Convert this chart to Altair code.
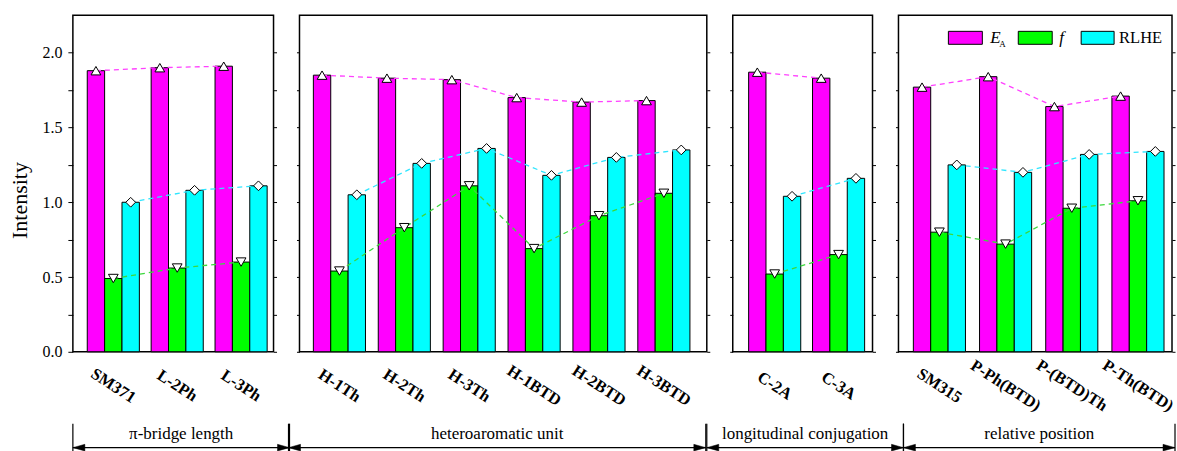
import altair as alt
import pandas as pd

# ---------------- data ----------------
section_titles = ["π-bridge length", "heteroaromatic unit", "longitudinal conjugation", "relative position"]
names_p1 = ["SM371", "L-2Ph", "L-3Ph"]
names_p2 = ["H-1Th", "H-2Th", "H-3Th", "H-1BTD", "H-2BTD", "H-3BTD"]
names_p3 = ["C-2A", "C-3A"]
names_p4 = ["SM315", "P-Ph(BTD)", "P-(BTD)Th", "P-Th(BTD)"]

ea_p1 = [1.88, 1.90, 1.91]
ea_p2 = [1.85, 1.83, 1.82, 1.70, 1.67, 1.68]
ea_p3 = [1.87, 1.83]
ea_p4 = [1.77, 1.84, 1.64, 1.71]

f_p1 = [0.49, 0.56, 0.60]
f_p2 = [0.54, 0.83, 1.11, 0.69, 0.91, 1.06]
f_p3 = [0.52, 0.65]
f_p4 = [0.80, 0.72, 0.96, 1.01]

rlhe_p1 = [1.00, 1.08, 1.11]
rlhe_p2 = [1.05, 1.26, 1.36, 1.18, 1.30, 1.35]
rlhe_p3 = [1.04, 1.16]
rlhe_p4 = [1.25, 1.20, 1.32, 1.34]

series = ["EA", "f", "RLHE"]
y_ticks = [0, 0.25, 0.5, 0.75, 1.0, 1.25, 1.5, 1.75, 2.0]

# ---------------- style / layout ----------------
FONT = "Liberation Serif"
bar_fill = ["#FF00FF", "#00FF00", "#00FFFF"]
line_col = ["#FF40FF", "#3CD83C", "#30E6FF"]
shapes = ["triangle-up", "triangle-down", "diamond"]

panel_w = [201, 408, 140, 274]
group_px = [64, 65, 64, 66.3]        # distance between group centres (px)
first_off = [40.5, 40, 42, 41]        # left frame -> first group centre (px)
bar_px = 17.4
H = 337
LABEL_Y = 371
bracket_l = [0, -11, -26, 5]
bracket_r = [217, 407, 171, 277]

panels = [
    (names_p1, ea_p1, f_p1, rlhe_p1),
    (names_p2, ea_p2, f_p2, rlhe_p2),
    (names_p3, ea_p3, f_p3, rlhe_p3),
    (names_p4, ea_p4, f_p4, rlhe_p4),
]

y_scale = alt.Scale(domain=[0, 2.25], nice=False, zero=True, padding=0)
one = pd.DataFrame({"a": [0]})

charts = []
for p, (names, ea, ff, rl) in enumerate(panels):
    sp = group_px[p]
    lo = 1 - first_off[p] / sp
    hi = lo + panel_w[p] / sp
    bw = bar_px / sp
    rows = []
    for i, nm in enumerate(names):
        for k, (s, vals) in enumerate(zip(series, [ea, ff, rl])):
            xc = i + 1 + (k - 1) * bw
            rows.append(dict(group=i + 1, name=nm, series=s, value=vals[i],
                             xc=xc, x0=xc - bw / 2, x1=xc + bw / 2))
    df = pd.DataFrame(rows)
    lab = pd.DataFrame({"group": list(range(1, len(names) + 1)), "name": names})
    xs = alt.Scale(domain=[lo, hi], nice=False, zero=False, padding=0)

    if p == 0:
        yaxis = alt.Axis(values=y_ticks, grid=False, domain=False, tickSize=5, tickColor="black",
                         labelExpr="datum.value % 0.5 == 0 ? format(datum.value, '.1f') : ''",
                         labelFont=FONT, labelFontSize=16, labelColor="black", labelPadding=6,
                         labelOverlap=False,
                         title="Intensity", titleFont=FONT, titleFontSize=22, titleFontWeight="normal",
                         titleColor="black", titlePadding=10, titleY=185)
    else:
        yaxis = alt.Axis(values=y_ticks, grid=False, domain=False, labels=False, tickSize=3,
                         tickColor="black", title=None)

    bars = alt.Chart(df).mark_rect(stroke="black", strokeWidth=1).encode(
        x=alt.X("x0:Q", scale=xs, axis=None),
        x2="x1:Q",
        y=alt.Y("value:Q", scale=y_scale, axis=yaxis),
        y2=alt.datum(0),
        fill=alt.Fill("series:N", scale=alt.Scale(domain=series, range=bar_fill), legend=None),
    )
    lines = alt.Chart(df).mark_line(strokeDash=[5, 4], strokeWidth=1.3).encode(
        x=alt.X("xc:Q", scale=xs, axis=None),
        y=alt.Y("value:Q", scale=y_scale, axis=None),
        stroke=alt.Stroke("series:N", scale=alt.Scale(domain=series, range=line_col), legend=None),
        order="group:Q",
    )
    pts = alt.Chart(df).mark_point(filled=True, fill="white", stroke="black", strokeWidth=1,
                                   opacity=1, size=95).encode(
        x=alt.X("xc:Q", scale=xs, axis=None),
        y=alt.Y("value:Q", scale=y_scale,
                axis=alt.Axis(orient="right", values=y_ticks, grid=False, domain=False, labels=False,
                              tickSize=3, tickColor="black", title=None)),
        shape=alt.Shape("series:N", scale=alt.Scale(domain=series, range=shapes), legend=None),
    )
    xlabels = alt.Chart(lab).mark_text(font=FONT, fontSize=16.5, fontWeight="bold", angle=33,
                                       align="center", baseline="middle", color="black").encode(
        x=alt.X("group:Q", scale=xs, axis=None),
        y=alt.value(LABEL_Y),
        text="name:N",
    )
    L, R = bracket_l[p], bracket_r[p]
    bdf = pd.DataFrame({"t": [section_titles[p]]})
    vl = alt.Chart(bdf).mark_rule(color="black", strokeWidth=1.2).encode(
        x=alt.value(L), y=alt.value(409), y2=alt.value(437))
    vr = alt.Chart(bdf).mark_rule(color="black", strokeWidth=1.2).encode(
        x=alt.value(R), y=alt.value(409), y2=alt.value(437))
    hl = alt.Chart(bdf).mark_rule(color="black", strokeWidth=1.2).encode(
        x=alt.value(L), x2=alt.value(R), y=alt.value(433))
    al = alt.Chart(bdf).mark_point(shape="M-1,0L1,-0.55L1,0.55Z", filled=True, fill="black",
                                   stroke="black", strokeWidth=0.5, opacity=1, size=144).encode(
        x=alt.value(L + 6), y=alt.value(433))
    ar = alt.Chart(bdf).mark_point(shape="M1,0L-1,-0.55L-1,0.55Z", filled=True, fill="black",
                                   stroke="black", strokeWidth=0.5, opacity=1, size=144).encode(
        x=alt.value(R - 6), y=alt.value(433))
    bt = alt.Chart(bdf).mark_text(font=FONT, fontSize=17, align="center", baseline="middle",
                                  color="black").encode(
        x=alt.value((L + R) / 2), y=alt.value(419), text="t:N")

    layers = [bars, lines, pts, xlabels, vl, vr, hl, al, ar, bt]

    if p == 3:
        sw_x = [(50, 84), (120, 154), (183, 216)]
        for k in range(3):
            layers.append(alt.Chart(one).mark_rect(fill=bar_fill[k], stroke="black", strokeWidth=1).encode(
                x=alt.value(sw_x[k][0]), x2=alt.value(sw_x[k][1]), y=alt.value(16), y2=alt.value(29)))
        layers.append(alt.Chart(one).mark_text(text="E", font=FONT, fontSize=17, fontStyle="italic",
                                               align="left", baseline="alphabetic", color="black").encode(
            x=alt.value(92), y=alt.value(28)))
        layers.append(alt.Chart(one).mark_text(text="A", font=FONT, fontSize=9,
                                               align="left", baseline="alphabetic", color="black").encode(
            x=alt.value(101), y=alt.value(32)))
        layers.append(alt.Chart(one).mark_text(text="f", font=FONT, fontSize=17, fontStyle="italic",
                                               align="left", baseline="alphabetic", color="black").encode(
            x=alt.value(161), y=alt.value(28)))
        layers.append(alt.Chart(one).mark_text(text="RLHE", font=FONT, fontSize=16.5,
                                               align="left", baseline="alphabetic", color="black").encode(
            x=alt.value(221), y=alt.value(28)))

    ch = alt.layer(*layers).resolve_scale(y="independent").properties(width=panel_w[p], height=H)
    charts.append(ch)

chart = alt.hconcat(*charts, spacing=26, bounds="flush").properties(
    padding={"left": 8, "top": 14, "right": 0, "bottom": 0}
).configure(font=FONT, view=alt.ViewConfig(stroke="black", strokeWidth=1.5))

chart.save("out.html", embed_options={"renderer": "svg", "actions": False})
